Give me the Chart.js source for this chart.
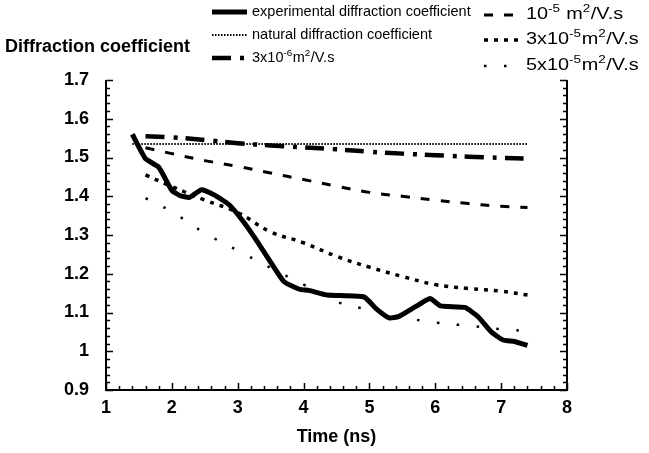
<!DOCTYPE html>
<html>
<head>
<meta charset="utf-8">
<script src="https://cdn.jsdelivr.net/npm/chart.js@4.4.1/dist/chart.umd.min.js"></script>
<style>
  html, body { margin: 0; padding: 0; background: #fff; }
  #wrap { width: 649px; height: 453px; position: relative; }
</style>
</head>
<body>
<div id="wrap"><canvas id="chart"></canvas></div>
<script>
// data
const expTime = [1.4, 1.6, 1.8, 2.0, 2.12, 2.27, 2.45, 2.65, 2.87, 3.07, 3.27, 3.48, 3.7, 3.94, 4.08, 4.36, 4.92, 5.1, 5.3, 5.45, 5.7, 5.92, 6.08, 6.45, 6.65, 6.85, 7.03, 7.2, 7.4];
const expCoef = [1.56, 1.497, 1.475, 1.415, 1.402, 1.397, 1.417, 1.403, 1.378, 1.338, 1.29, 1.235, 1.18, 1.16, 1.157, 1.145, 1.14, 1.11, 1.086, 1.09, 1.115, 1.136, 1.117, 1.113, 1.089, 1.05, 1.029, 1.025, 1.015];

const naturalTime = [1.4, 7.4];
const naturalCoef = [1.535, 1.535];

const modelTime = [1.6, 2.0, 2.5, 3.0, 3.5, 4.0, 4.5, 5.0, 5.5, 6.0, 6.5, 7.0, 7.4];
const coef3e6 = [1.555, 1.552, 1.545, 1.537, 1.531, 1.526, 1.521, 1.515, 1.51, 1.506, 1.502, 1.499, 1.497];
const coef1e5 = [1.525, 1.51, 1.492, 1.477, 1.46, 1.443, 1.426, 1.41, 1.4, 1.39, 1.381, 1.374, 1.371];
const coef3e5 = [1.455, 1.425, 1.39, 1.358, 1.308, 1.28, 1.245, 1.217, 1.193, 1.172, 1.162, 1.155, 1.145];
const coef5e5 = [1.395, 1.36, 1.305, 1.26, 1.215, 1.172, 1.128, 1.107, 1.088, 1.074, 1.066, 1.057, 1.052];

const seriesNames = [
  "experimental diffraction coefficient",
  "natural diffraction coefficient",
  "3x10^{-6}m^{2}/V.s",
  "10^{-5} m^{2}/V.s",
  "3x10^{-5}m^{2}/V.s",
  "5x10^{-5}m^{2}/V.s",
];
const xTickLabels = ["1", "2", "3", "4", "5", "6", "7", "8"];
const yTickLabels = ["0.9", "1", "1.1", "1.2", "1.3", "1.4", "1.5", "1.6", "1.7"];
const yAxisTitle = "Diffraction coefficient";
const xAxisTitle = "Time (ns)";

const pts = (xs, ys) => xs.map((x, i) => ({ x: x, y: ys[i] }));

// legend slots: [sampleStart, sampleEnd, y, textX, fontSize, hScale]
const legendSlots = [
  [212, 247, 12, 252, 14.5, 1],
  [212, 247, 35, 252, 14.5, 1],
  [212, 247, 58, 252, 14.5, 1],
  [484, 520, 15, 526, 16, 1.24],
  [484, 520, 40, 526, 16, 1.24],
  [484, 520, 66, 526, 16, 1.24],
];

function drawRich(ctx, str, x, y, size, hs) {
  const parts = str.split(/\^\{([^}]*)\}/);
  ctx.save();
  ctx.translate(x, y);
  ctx.scale(hs, 1);
  let cx = 0;
  parts.forEach((p, i) => {
    if (!p) return;
    const sup = i % 2 === 1;
    ctx.font = (sup ? size * 0.68 : size) + "px 'Liberation Sans', Arial";
    ctx.fillText(p, cx, sup ? -size * 0.35 : 0);
    cx += ctx.measureText(p).width + (sup ? 0.5 : 0);
  });
  ctx.restore();
}

const framePlugin = {
  id: "frame",
  afterDraw(chart) {
    const ctx = chart.ctx;
    const area = chart.chartArea;
    const xs = chart.scales.x;
    const ys = chart.scales.y;
    ctx.save();
    ctx.strokeStyle = "#000";
    ctx.fillStyle = "#000";

    // axis lines (no top line)
    ctx.lineWidth = 2;
    ctx.setLineDash([]);
    ctx.beginPath();
    ctx.moveTo(area.left, area.top);
    ctx.lineTo(area.left, area.bottom);
    ctx.lineTo(area.right, area.bottom);
    ctx.lineTo(area.right, area.top);
    ctx.stroke();

    // inward ticks, minor every 0.02 / 0.2
    ctx.lineWidth = 1.5;
    ctx.beginPath();
    for (let i = 0; i <= 40; i++) {
      const py = Math.round(ys.getPixelForValue(0.9 + i * 0.02)) + 0.5;
      const len = i % 5 === 0 ? 7 : 4;
      ctx.moveTo(area.left, py);
      ctx.lineTo(area.left + len, py);
      ctx.moveTo(area.right, py);
      ctx.lineTo(area.right - len, py);
    }
    for (let i = 0; i <= 35; i++) {
      const px = Math.round(xs.getPixelForValue(1 + i * 0.2)) + 0.5;
      const len = i % 5 === 0 ? 7 : 4;
      ctx.moveTo(px, area.bottom);
      ctx.lineTo(px, area.bottom - len);
    }
    ctx.stroke();

    // y title, horizontal at top left
    ctx.font = "bold 18px 'Liberation Sans', Arial";
    ctx.textBaseline = "middle";
    ctx.textAlign = "left";
    ctx.fillText(yAxisTitle, 5, 47);

    // legend
    chart.data.datasets.forEach((ds, i) => {
      const [x0, x1, y, tx, size, hs] = legendSlots[i];
      ctx.lineWidth = ds.borderWidth;
      ctx.setLineDash(ds.borderDash || []);
      ctx.lineCap = "butt";
      ctx.beginPath();
      ctx.moveTo(x0, y);
      ctx.lineTo(x1, y);
      ctx.stroke();
      ctx.setLineDash([]);
      ctx.textBaseline = "middle";
      drawRich(ctx, seriesNames[i], tx, y, size, hs);
    });
    ctx.restore();
  },
};

const tickFont = { family: "'Liberation Sans', Arial", size: 18, weight: "bold" };

new Chart(document.getElementById("chart"), {
  type: "line",
  data: {
    datasets: [
      { data: pts(expTime, expCoef), borderWidth: 5, tension: 0.15 },
      { data: pts(naturalTime, naturalCoef), borderWidth: 2, borderDash: [1.5, 1.5], tension: 0 },
      { data: pts(modelTime, coef3e6), borderWidth: 4.5, borderDash: [19, 9, 4, 8], tension: 0.4 },
      { data: pts(modelTime, coef1e5), borderWidth: 3, borderDash: [9, 11], tension: 0.4 },
      { data: pts(modelTime, coef3e5), borderWidth: 3.5, borderDash: [4, 6], tension: 0.4 },
      { data: pts(modelTime, coef5e5), borderWidth: 2.5, borderDash: [2.5, 17.5], tension: 0.4 },
    ].map(d => Object.assign({ borderColor: "#000", pointRadius: 0, fill: false, borderJoinStyle: "round" }, d)),
  },
  options: {
    responsive: true,
    maintainAspectRatio: false,
    animation: false,
    layout: { padding: { top: 80, left: 0, right: 0, bottom: 0 } },
    plugins: { legend: { display: false }, tooltip: { enabled: false } },
    scales: {
      x: {
        type: "linear",
        min: 1,
        max: 8,
        afterFit: (s) => { s.height = 63; },
        grid: { display: false, drawTicks: false },
        border: { display: false },
        ticks: {
          stepSize: 1,
          autoSkip: false,
          maxRotation: 0,
          padding: 7,
          color: "#000",
          font: tickFont,
          callback: (v, i) => xTickLabels[i],
        },
        title: {
          display: true,
          text: xAxisTitle,
          color: "#000",
          font: tickFont,
          padding: { top: 0, bottom: 5 },
        },
      },
      y: {
        min: 0.9,
        max: 1.7,
        afterFit: (s) => { s.width = 106; },
        grid: { display: false, drawTicks: false },
        border: { display: false },
        ticks: {
          stepSize: 0.1,
          autoSkip: false,
          padding: 17,
          color: "#000",
          font: tickFont,
          callback: (v, i) => yTickLabels[i],
        },
      },
      y2: {
        position: "right",
        min: 0.9,
        max: 1.7,
        afterFit: (s) => { s.width = 82; },
        grid: { display: false, drawTicks: false },
        border: { display: false },
        ticks: { display: false },
      },
    },
  },
  plugins: [framePlugin],
});
</script>
</body>
</html>
